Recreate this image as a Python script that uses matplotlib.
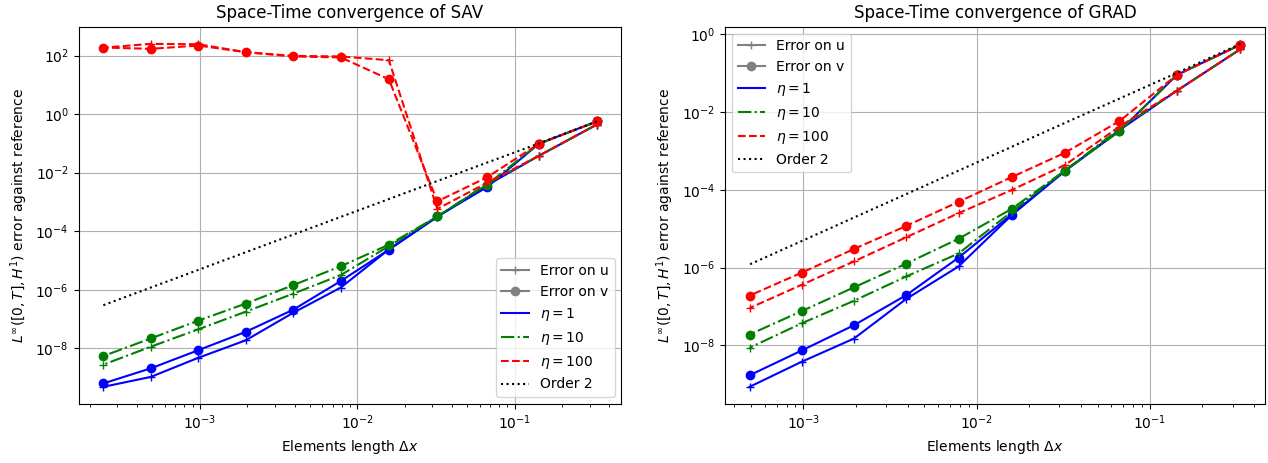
import matplotlib
matplotlib.use("Agg")
import matplotlib.pyplot as plt
from matplotlib.lines import Line2D

# ---- data ----
h_sav = [0.333, 0.143, 0.0667, 0.0323, 0.0159, 0.00787, 0.00392, 0.00196,
         0.000978, 0.000489, 0.000244]
h_grad = [0.333, 0.143, 0.0667, 0.0323, 0.0159, 0.00787, 0.00392, 0.00196,
          0.000978, 0.000489]

# SAV, ordered from coarse (h=1/3) to fine
sav_u_eta1 = [0.44, 0.038, 3.7e-3, 3.1e-4, 2.4e-5, 1.2e-6, 1.65e-7, 1.9e-8, 4.8e-9, 1.07e-9, 4.9e-10]
sav_v_eta1 = [0.56, 0.098, 3.2e-3, 3.2e-4, 2.35e-5, 2.0e-6, 2.1e-7, 3.7e-8, 8.7e-9, 2.1e-9, 6.4e-10]
sav_u_eta10 = [0.44, 0.038, 4.1e-3, 3.2e-4, 3.1e-5, 3.2e-6, 7.4e-7, 1.8e-7, 4.5e-8, 1.15e-8, 2.8e-9]
sav_v_eta10 = [0.56, 0.098, 3.9e-3, 3.2e-4, 3.5e-5, 6.4e-6, 1.45e-6, 3.4e-7, 8.9e-8, 2.2e-8, 5.5e-9]
sav_u_eta100 = [0.44, 0.038, 4.5e-3, 5.8e-4, 69.0, 93.0, 97.0, 130.0, 243.0, 250.0, 185.0]
sav_v_eta100 = [0.56, 0.098, 6.9e-3, 1.05e-3, 15.5, 86.0, 93.0, 130.0, 219.0, 169.0, 187.0]
sav_order2 = [0.56, 0.10, 0.022, 5.2e-3, 1.26e-3, 3.1e-4, 7.7e-5, 1.93e-5, 4.8e-6, 1.2e-6, 3.0e-7]

# GRAD
grad_u_eta1 = [0.41, 0.035, 3.4e-3, 3.0e-4, 2.2e-5, 1.07e-6, 1.56e-7, 1.5e-8, 3.8e-9, 8.6e-10]
grad_v_eta1 = [0.53, 0.089, 3.2e-3, 3.1e-4, 2.3e-5, 1.8e-6, 1.95e-7, 3.3e-8, 7.4e-9, 1.7e-9]
grad_u_eta10 = [0.41, 0.035, 3.7e-3, 3.1e-4, 2.7e-5, 2.3e-6, 5.9e-7, 1.4e-7, 3.7e-8, 8.7e-9]
grad_v_eta10 = [0.53, 0.089, 3.2e-3, 3.1e-4, 3.2e-5, 5.5e-6, 1.26e-6, 3.1e-7, 7.6e-8, 1.9e-8]
grad_u_eta100 = [0.41, 0.035, 4.2e-3, 4.3e-4, 9.8e-5, 2.5e-5, 6.0e-6, 1.44e-6, 3.6e-7, 9.1e-8]
grad_v_eta100 = [0.53, 0.089, 5.8e-3, 8.9e-4, 2.1e-4, 4.9e-5, 1.17e-5, 3.0e-6, 7.4e-7, 1.9e-7]
grad_order2 = [0.56, 0.10, 0.022, 5.2e-3, 1.26e-3, 3.1e-4, 7.7e-5, 1.93e-5, 4.8e-6, 1.2e-6]

titles = ["Space-Time convergence of SAV", "Space-Time convergence of GRAD"]
eta_labels = [r"$\eta = 1$", r"$\eta = 10$", r"$\eta = 100$"]
eta_colors = ["blue", "green", "red"]
eta_styles = ["-", "-.", "--"]

fig = plt.figure(figsize=(12.68, 4.63), dpi=100)
W, H = 1268, 463
ax1 = fig.add_axes([78.6 / W, 1 - 404 / H, (621.5 - 78.6) / W, (404 - 26.7) / H])
ax2 = fig.add_axes([725 / W, 1 - 404 / H, (1265 - 725) / W, (404 - 26.7) / H])

datasets = [
    (ax1, h_sav, [(sav_u_eta1, sav_v_eta1), (sav_u_eta10, sav_v_eta10), (sav_u_eta100, sav_v_eta100)], sav_order2, "lower right"),
    (ax2, h_grad, [(grad_u_eta1, grad_v_eta1), (grad_u_eta10, grad_v_eta10), (grad_u_eta100, grad_v_eta100)], grad_order2, "upper left"),
]

for (ax, h, series, order2, loc), title in zip(datasets, titles):
    for (u, v), c, ls in zip(series, eta_colors, eta_styles):
        ax.plot(h, u, color=c, linestyle=ls, marker="+")
        ax.plot(h, v, color=c, linestyle=ls, marker="o")
    ax.plot(h, order2, color="black", linestyle=":")
    ax.set_xscale("log")
    ax.set_yscale("log")
    ax.grid(True)
    ax.set_title(title)
    ax.set_xlabel(r"Elements length $\Delta x$")
    ax.set_ylabel(r"$L^\infty([0,T],H^1)$ error against reference")
    handles = [
        Line2D([], [], color="gray", marker="+", label="Error on u"),
        Line2D([], [], color="gray", marker="o", label="Error on v"),
    ]
    for lab, c, ls in zip(eta_labels, eta_colors, eta_styles):
        handles.append(Line2D([], [], color=c, linestyle=ls, label=lab))
    handles.append(Line2D([], [], color="black", linestyle=":", label="Order 2"))
    ax.legend(handles=handles, loc=loc)

fig.savefig("out.png", dpi=100)
